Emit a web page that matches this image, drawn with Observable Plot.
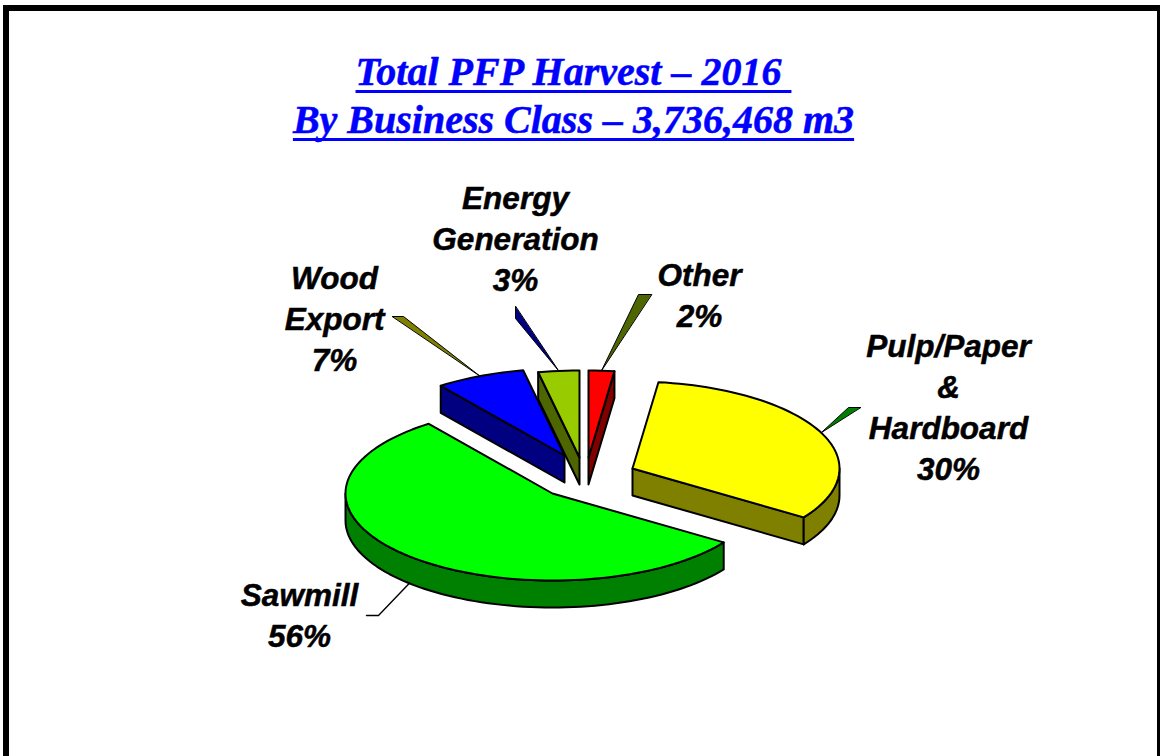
<!DOCTYPE html>
<html>
<head>
<meta charset="utf-8">
<script src="https://cdn.jsdelivr.net/npm/d3@7"></script>
<script src="https://cdn.jsdelivr.net/npm/@observablehq/plot@0.6"></script>
<style>
  html, body { margin: 0; padding: 0; background: #fff; overflow: hidden; }
  #page { position: relative; width: 1160px; height: 756px; overflow: hidden; }
  #border { position: absolute; left: 3px; top: 5px; width: 1160px; height: 760px;
            border: 6px solid #000; box-sizing: border-box; }
  #title { position: absolute; left: 0; top: 48px; width: 1147px; margin: 0; text-align: center;
           font: italic bold 40px/48px "Liberation Serif", serif; color: #0000ff;
           -webkit-text-stroke: 0.5px #0000ff;
           text-decoration: underline; text-decoration-thickness: 3px; text-underline-offset: 5px;
           text-decoration-skip-ink: none; white-space: pre; }
  #chart { position: absolute; left: 0; top: 150px; }
</style>
</head>
<body>
<div id="page">
  <div id="border"></div>
  <div id="title"></div>
  <div id="chart"></div>
</div>
<script>
// ---- data, clockwise from twelve o'clock ----
const titleLines = ["Total PFP Harvest \u2013 2016 ", "By Business Class \u2013 3,736,468 m3"];
const categories = ["Other", "Pulp/Paper\n&\nHardboard", "Sawmill", "Wood\nExport", "Energy\nGeneration"];
const printedPercent = [2, 30, 56, 7, 3];
// wedge sizes (%), which differ slightly from the printed labels
const wedgeShares = [2, 32.5, 55.3, 7, 3.2];
const faceColors = ["#ff0000", "#ffff00", "#00ff00", "#0000ff", "#99cc00"];
const wallColors = ["#800000", "#808000", "#008000", "#000080", "#4d6600"];
const leaderColors = ["#4d6600", "#008000", "none", "#808000", "#000080"];

// ---- layout (page pixels), separate from the data ----
const layout = {
  centre: [584, 480], rx: 207, ry: 87, depth: 27,
  // how far each slice is pulled out of the pie
  explode: [[4, -23], [48, -12], [-32, 13], [-20, -25], [-5, -23]],
  paintOrder: [0, 4, 3, 1, 2],
  label: [[699, 293], [948, 405], [299, 613], [334, 316], [515, 236]],
  // far end of each leader: two points of a thin sliver
  leader: [
    [[638, 294], [651, 294]],
    [[848, 407], [860, 407]],
    [[378, 615], [366, 615]],
    [[403, 316], [392, 316]],
    [[515, 318], [515, 306]]
  ]
};

document.getElementById("title").textContent = titleLines.join("\n");

const rad = d => d * Math.PI / 180;
const {centre, rx, ry, depth} = layout;
const onRim = (o, a) => [o[0] + rx * Math.sin(rad(a)), o[1] - ry * Math.cos(rad(a))];
const down = p => [p[0], p[1] + depth];

let cumulative = 0;
const slices = categories.map((name, i) => {
  const a0 = cumulative * 3.6;
  cumulative += wedgeShares[i];
  const a1 = cumulative * 3.6;
  const mid = (a0 + a1) / 2;
  const apex = [centre[0] + layout.explode[i][0], centre[1] + layout.explode[i][1]];
  return {i, name, a0, a1, mid, apex};
});

function arc(o, a0, a1) {
  const n = Math.max(2, Math.ceil((a1 - a0) / 2));
  return d3.range(n + 1).map(k => onRim(o, a0 + (a1 - a0) * k / n));
}

// polygons painted in order; each row is one vertex
let polygonId = 0;
function pushPolygon(target, points, fill) {
  const z = polygonId++;
  for (const [x, y] of points) target.push({x, y, z, fill});
}

const rows = [];
for (const index of layout.paintOrder) {
  const s = slices[index];
  const wall = wallColors[index];
  const start = onRim(s.apex, s.a0);
  const end = onRim(s.apex, s.a1);
  // walls that face the viewer: a clockwise edge running leftwards on screen
  if (start[0] < s.apex[0]) pushPolygon(rows, [s.apex, start, down(start), down(s.apex)], wall);
  if (end[0] > s.apex[0]) pushPolygon(rows, [end, s.apex, down(s.apex), down(end)], wall);
  const from = Math.max(s.a0, 90), to = Math.min(s.a1, 270);
  if (to > from) {
    const rim = arc(s.apex, from, to);
    pushPolygon(rows, [...rim, ...rim.slice().reverse().map(down)], wall);
  }
  pushPolygon(rows, [s.apex, ...arc(s.apex, s.a0, s.a1)], faceColors[index]);
}

// leaders: slivers from the rim at each slice's middle
const leaderRows = [];
slices.forEach(s => {
  if (leaderColors[s.i] === "none") return;
  pushPolygon(leaderRows, [onRim(s.apex, s.mid), ...layout.leader[s.i]], leaderColors[s.i]);
});
const sawmill = slices[2];
const sawmillLeader = [down(onRim(sawmill.apex, sawmill.mid)), ...layout.leader[2]]
  .map(([x, y]) => ({x, y}));

const labels = slices.map(s => ({
  text: `${s.name}\n${printedPercent[s.i]}%`,
  x: layout.label[s.i][0],
  y: layout.label[s.i][1]
}));

const chart = Plot.plot({
  width: 1160,
  height: 606,
  margin: 0,
  x: {domain: [0, 1160], range: [0, 1160], axis: null},
  y: {domain: [150, 756], range: [0, 606], axis: null},
  color: {type: "identity"},
  style: {background: "transparent"},
  marks: [
    Plot.line(leaderRows, {x: "x", y: "y", z: "z", fill: "fill", stroke: "#000", strokeWidth: 1,
                           curve: "linear-closed", strokeLinejoin: "round"}),
    Plot.line(rows, {x: "x", y: "y", z: "z", fill: "fill", stroke: "#000", strokeWidth: 2,
                     curve: "linear-closed", strokeLinejoin: "round"}),
    Plot.line(sawmillLeader, {x: "x", y: "y", stroke: "#000", strokeWidth: 1.4}),
    Plot.text(labels, {x: "x", y: "y", text: "text", fill: "#000", stroke: "#000", strokeWidth: 0.5,
                       fontSize: 31.5,
                       fontFamily: "Liberation Sans", fontWeight: "bold", fontStyle: "italic",
                       lineHeight: 1.3, textAnchor: "middle", lineAnchor: "middle"})
  ]
});
document.getElementById("chart").append(chart);
</script>
</body>
</html>
